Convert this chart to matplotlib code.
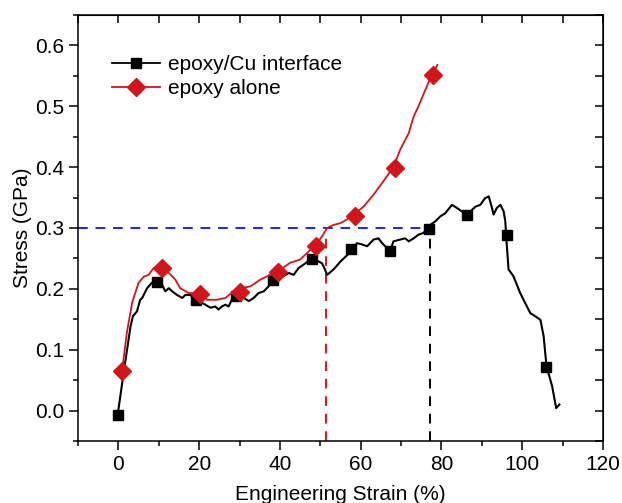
import matplotlib
matplotlib.use("Agg")
from matplotlib import pyplot as plt
from matplotlib.ticker import MultipleLocator

# epoxy/Cu interface: full trace, then the marker positions
cu_strain = [-0.2, 1.3, 3.0, 3.6, 4.6, 5.4, 5.9, 7.1, 8.3, 9.4, 10.4, 10.8, 11.6,
             12.5, 13.3, 14.5, 15.8, 16.6, 17.8, 19.0, 20.7, 21.5, 22.8, 24.0, 24.8,
             25.6, 26.5, 27.3, 28.5, 30.2, 31.0, 32.3, 33.5, 34.7, 36.0, 37.2, 37.6,
             40.1, 40.9, 42.2, 43.4, 44.6, 45.9, 47.5, 49.6, 50.4, 50.8, 51.7, 53.3,
             55.0, 57.4, 59.1, 60.3, 61.6, 63.2, 64.4, 65.3, 67.3, 68.1, 69.8, 71.0,
             71.9, 73.1, 74.3, 75.6, 76.8, 78.5, 79.7, 80.9, 82.6, 83.8, 85.1, 86.3,
             88.4, 89.6, 90.8, 91.7, 92.5, 92.9, 93.7, 94.6, 95.4, 95.8, 96.0, 96.6,
             97.8, 99.5, 100.7, 102.0, 103.2, 104.5, 105.3, 106.0, 107.4, 108.4, 109.2]
cu_stress = [-0.008, 0.062, 0.138, 0.155, 0.163, 0.182, 0.185, 0.201, 0.210, 0.212,
             0.204, 0.207, 0.196, 0.201, 0.196, 0.190, 0.185, 0.190, 0.190, 0.182,
             0.177, 0.174, 0.169, 0.171, 0.166, 0.171, 0.174, 0.171, 0.188, 0.185,
             0.185, 0.180, 0.185, 0.193, 0.196, 0.204, 0.212, 0.218, 0.221, 0.226,
             0.223, 0.234, 0.240, 0.248, 0.245, 0.242, 0.237, 0.223, 0.232, 0.245,
             0.260, 0.275, 0.273, 0.270, 0.281, 0.283, 0.275, 0.262, 0.278, 0.281,
             0.283, 0.278, 0.283, 0.289, 0.292, 0.303, 0.311, 0.319, 0.324, 0.338,
             0.333, 0.327, 0.322, 0.335, 0.338, 0.349, 0.352, 0.333, 0.322, 0.333,
             0.338, 0.327, 0.311, 0.289, 0.232, 0.221, 0.193, 0.177, 0.160, 0.155,
             0.149, 0.122, 0.073, 0.040, 0.004, 0.010]
cu_mark_x = [-0.2, 9.6, 19.3, 29.0, 38.4, 47.9, 57.6, 67.2, 77.0, 86.3, 96.2, 105.8]
cu_mark_y = [-0.008, 0.212, 0.181, 0.189, 0.215, 0.249, 0.265, 0.262, 0.299, 0.322,
             0.289, 0.071]

# epoxy alone
ep_strain = [0.9, 2.1, 3.4, 5.0, 6.3, 7.5, 8.7, 10.5, 12.5, 14.1, 15.3, 17.4, 20.3,
             22.0, 24.4, 26.5, 28.5, 30.2, 32.7, 35.1, 37.6, 40.1, 42.6, 45.0, 47.5,
             49.2, 50.4, 51.7, 53.3, 55.0, 56.6, 58.2, 60.7, 63.2, 65.3, 68.1, 69.8,
             71.9, 73.1, 74.3, 76.0, 77.6, 79.0]
ep_stress = [0.065, 0.128, 0.177, 0.210, 0.220, 0.223, 0.234, 0.237, 0.226, 0.215,
             0.201, 0.193, 0.193, 0.182, 0.182, 0.185, 0.196, 0.201, 0.204, 0.215,
             0.223, 0.232, 0.243, 0.248, 0.264, 0.275, 0.286, 0.300, 0.305, 0.308,
             0.314, 0.322, 0.335, 0.355, 0.374, 0.400, 0.429, 0.456, 0.483, 0.500,
             0.527, 0.552, 0.568]
ep_mark_x = [0.9, 10.8, 20.1, 30.0, 39.5, 49.0, 58.7, 68.4, 77.9]
ep_mark_y = [0.065, 0.234, 0.192, 0.194, 0.228, 0.271, 0.320, 0.398, 0.552]

# reference lines
level = 0.30
ep_cross = 51.5
cu_cross = 77.2

RED = "#d0161b"

plt.rcParams["font.family"] = ["Liberation Sans", "DejaVu Sans"]
fig = plt.figure(figsize=(6.22, 5.03), dpi=100)
ax = fig.add_axes([0.1254, 0.1233, 0.8441, 0.8469])

ax.plot([-10, cu_cross], [level, level], color="#1f1fff", lw=1.4, dashes=(5, 4))
ax.plot([ep_cross, ep_cross], [-0.05, 0.29], color=RED, lw=1.4, dashes=(5, 4))
ax.plot([cu_cross, cu_cross], [-0.05, level], color="black", lw=1.4, dashes=(5, 4))

ax.plot(cu_strain, cu_stress, color="black", lw=1.5)
ax.plot(cu_mark_x, cu_mark_y, ls="none", marker="s", ms=7.5, color="black")
ax.plot(ep_strain, ep_stress, color=RED, lw=1.3)
ax.plot(ep_mark_x, ep_mark_y, ls="none", marker="D", ms=9, color=RED)

h1, = ax.plot([], [], color="black", lw=1.3, marker="s", ms=7.5)
h2, = ax.plot([], [], color=RED, lw=1.3, marker="D", ms=9)
ax.legend([h1, h2], ["epoxy/Cu interface", "epoxy alone"], loc="upper left",
          bbox_to_anchor=(0.045, 0.93), frameon=False, fontsize=15,
          handlelength=2.3, handletextpad=0.4, labelspacing=0.25, borderpad=0)

ax.set_xlim(-10, 120)
ax.set_ylim(-0.05, 0.65)
ax.xaxis.set_major_locator(MultipleLocator(20))
ax.xaxis.set_minor_locator(MultipleLocator(10))
ax.yaxis.set_major_locator(MultipleLocator(0.1))
ax.yaxis.set_minor_locator(MultipleLocator(0.05))
ax.yaxis.set_major_formatter(plt.FormatStrFormatter("%.1f"))
ax.tick_params(which="major", direction="out", length=6.5, width=1.1, labelsize=15)
ax.tick_params(which="minor", direction="out", length=3.6, width=1.1)
for s in ax.spines.values():
    s.set_linewidth(1.1)

top = ax.secondary_xaxis("top")
top.xaxis.set_major_locator(MultipleLocator(10))
top.tick_params(direction="in", length=5.5, width=1.1, labeltop=False)
right = ax.secondary_yaxis("right")
right.yaxis.set_major_locator(MultipleLocator(0.05))
right.tick_params(direction="in", length=5.5, width=1.1, labelright=False)

ax.set_xlabel("Engineering Strain (%)", fontsize=15, labelpad=8)
ax.set_ylabel("Stress (GPa)", fontsize=15, labelpad=2)

fig.savefig("out.png", dpi=100)
